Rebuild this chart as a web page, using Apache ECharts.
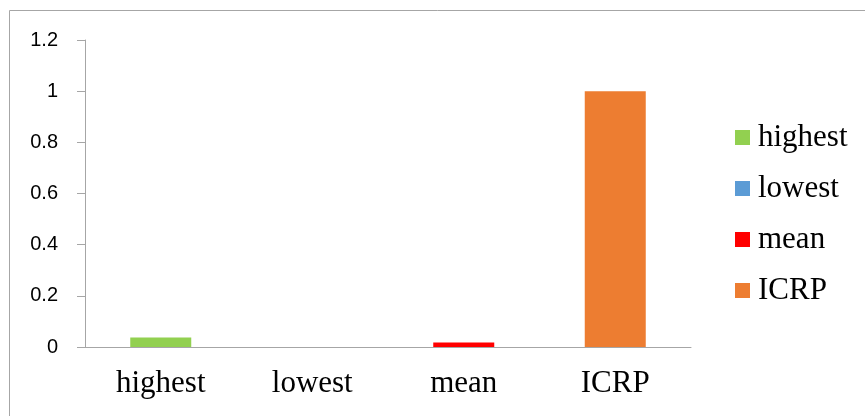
<!DOCTYPE html>
<html>
<head>
<meta charset="utf-8">
<script src="https://cdn.jsdelivr.net/npm/echarts@6/dist/echarts.min.js"></script>
<style>html,body{margin:0;padding:0;background:#fff}#c{width:865px;height:416px}</style>
</head>
<body>
<div id="c"></div>
<script>
var categories = ['highest', 'lowest', 'mean', 'ICRP'];
var seriesNames = ['highest', 'lowest', 'mean', 'ICRP'];
var values = [0.0375, 0, 0.018, 1.0];
var colors = ['#92D050', '#5B9BD5', '#FF0000', '#ED7D31'];
var yTicks = [0, 0.2, 0.4, 0.6, 0.8, 1, 1.2];

var chart = echarts.init(document.getElementById('c'));
var series = seriesNames.map(function (name, i) {
  var d = categories.map(function (c, j) { return j === i ? values[i] : '-'; });
  return {
    name: name, type: 'bar', stack: 'all', data: d, barWidth: 61,
    itemStyle: { color: colors[i] }
  };
});
chart.setOption({
  animation: false,
  graphic: [{
    type: 'rect', shape: { x: 9.5, y: 10.5, width: 900, height: 450 },
    style: { fill: 'none', stroke: '#A6A6A6', lineWidth: 1 }, silent: true
  }],
  grid: { left: 85, right: 174, top: 40, bottom: 69 },
  legend: {
    orient: 'vertical', left: 735, top: 122, padding: 0, itemWidth: 15, itemHeight: 15,
    itemGap: 20, icon: 'rect',
    textStyle: { fontFamily: 'Liberation Serif', fontSize: 31, color: '#000', padding: [0, 0, 0, 3] },
    data: seriesNames
  },
  xAxis: {
    type: 'category', data: categories,
    axisLine: { lineStyle: { color: '#A6A6A6' } },
    axisTick: { length: 9, lineStyle: { color: '#A6A6A6' } },
    axisLabel: { fontFamily: 'Liberation Serif', fontSize: 31, color: '#000', margin: 21 }
  },
  yAxis: {
    type: 'value', min: 0, max: 1.2, interval: 0.2,
    axisLine: { show: true, lineStyle: { color: '#A6A6A6' } },
    axisTick: { show: true, length: 8, lineStyle: { color: '#A6A6A6' } },
    splitLine: { show: false },
    axisLabel: {
      fontFamily: 'Liberation Sans', fontSize: 20, color: '#000', margin: 27,
      formatter: function (v) { return String(Math.round(v * 10) / 10); }
    }
  },
  series: series
});
</script>
</body>
</html>
